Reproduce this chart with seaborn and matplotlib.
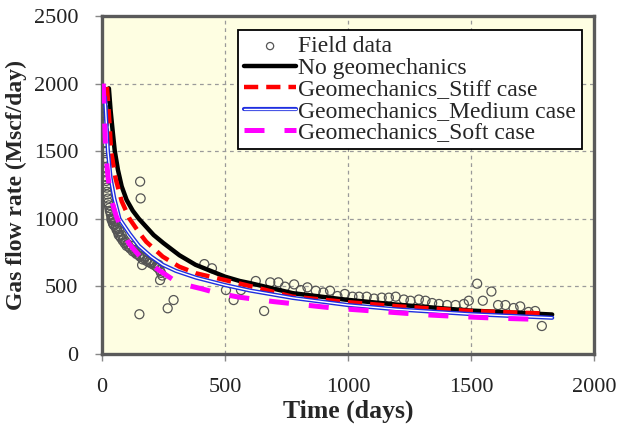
import matplotlib
matplotlib.use("Agg")
import matplotlib.pyplot as plt
import matplotlib.patheffects as pe
import seaborn as sns
import pandas as pd

# ---------------- data ----------------
field_t = [2, 3, 4, 5, 6, 7, 8, 9, 10, 11, 12, 13, 14, 15, 16, 17, 18, 19, 20,
           22, 24, 26, 28, 30, 32, 34, 36, 38, 40, 42, 44, 46, 48, 50, 53, 56,
           59, 62, 65, 68, 71, 74, 77, 80, 84, 88, 92, 96, 100, 105, 110, 115,
           120, 125, 130, 135, 140, 145, 150, 155, 160, 165, 170, 175, 180, 185,
           190, 195, 200, 205, 210, 215, 220, 225, 230, 235, 240, 245,
           152, 155, 157, 163, 236, 267, 291, 416, 447, 504, 535, 565, 625, 659,
           684, 717, 744, 781, 808, 835, 869, 900, 927, 957, 987, 1018, 1045,
           1076, 1106, 1137, 1166, 1194, 1227, 1254, 1288, 1315, 1342, 1370,
           1403, 1437, 1471, 1491, 1525, 1548, 1583, 1610, 1640, 1673, 1700,
           1734, 1761, 1788]
field_q = [1950, 1900, 1870, 1820, 1780, 1700, 1650, 1600, 1560, 1500, 1450,
           1420, 1380, 1350, 1310, 1280, 1250, 1230, 1200, 1180, 1150, 1120,
           1100, 1080, 1060, 1050, 1030, 1000, 990, 1010, 970, 960, 1000, 950,
           980, 940, 920, 930, 900, 880, 910, 870, 860, 880, 840, 850, 820, 830,
           800, 810, 790, 780, 800, 760, 770, 750, 740, 760, 730, 720, 740, 700,
           710, 720, 690, 700, 680, 690, 670, 680, 660, 670, 650, 640, 660, 620,
           600, 580,
           294, 1275, 1151, 658, 547, 338, 399, 665, 634, 473, 399, 473, 540,
           318, 530, 530, 498, 515, 473, 493, 468, 455, 468, 429, 444, 424, 424,
           424, 410, 417, 417, 424, 403, 394, 403, 394, 377, 370, 362, 362, 370,
           394, 520, 394, 462, 362, 362, 340, 352, 311, 318, 207]

nogeo_t = [28, 35, 45, 52, 65, 80, 100, 125, 150, 180, 210, 250, 315, 380, 500,
           560, 600, 775, 990, 1200, 1490, 1830]
nogeo_q = [1965, 1800, 1620, 1500, 1360, 1240, 1140, 1060, 1000, 940, 880, 820,
           730, 660, 572, 540, 525, 450, 402, 365, 322, 292]

stiff_t = [20, 28, 37, 55, 80, 112, 150, 180, 247, 314, 382, 500, 585, 775,
           990, 1207, 1500, 1795]
stiff_q = [1975, 1780, 1500, 1300, 1130, 1000, 900, 830, 720, 646, 597, 547,
           510, 424, 385, 352, 318, 300]

medium_t = [12, 18, 24, 35, 50, 71, 112, 150, 200, 247, 300, 382, 500, 600, 775,
            1000, 1200, 1500, 1830]
medium_q = [1900, 1700, 1500, 1300, 1150, 1000, 890, 800, 720, 660, 615, 565,
            510, 470, 415, 362, 330, 295, 268]

soft_t = [5, 10, 15, 25, 40, 58, 80, 112, 160, 220, 287, 343, 408, 468, 558,
          700, 950, 1180, 1335, 1465, 1590, 1755]
soft_q = [2000, 1750, 1500, 1300, 1130, 1020, 920, 810, 710, 634, 552, 510,
          481, 451, 420, 387, 338, 308, 288, 276, 266, 257]

x_ticks = [0, 500, 1000, 1500, 2000]
y_ticks = [0, 500, 1000, 1500, 2000, 2500]

labels = ["Field data", "No geomechanics", "Geomechanics_Stiff case",
          "Geomechanics_Medium case", "Geomechanics_Soft case"]

# ---------------- plot ----------------
sns.set_theme(style="white")
plt.rcParams["font.family"] = ["Liberation Serif", "DejaVu Serif"]

fig = plt.figure(figsize=(6.17, 4.26), dpi=100)
ax = fig.add_axes([102 / 617, 1 - 354 / 426, 492 / 617, 338 / 426])
ax.set_facecolor("#FEFEE2")

df_field = pd.DataFrame({"t": field_t, "q": field_q})
sns.scatterplot(data=df_field, x="t", y="q", ax=ax, marker="o",
                facecolor="none", edgecolor="#555555", linewidth=0.9, s=42,
                label=labels[0], zorder=3, clip_on=True)

df_ng = pd.DataFrame({"t": nogeo_t, "q": nogeo_q})
sns.lineplot(data=df_ng, x="t", y="q", ax=ax, color="black", linewidth=3.2,
             sort=False, estimator=None, label=labels[1], zorder=4)

df_st = pd.DataFrame({"t": stiff_t, "q": stiff_q})
sns.lineplot(data=df_st, x="t", y="q", ax=ax, color="#FF0000", linewidth=3.2,
             linestyle=(0, (3.2, 1.8)), sort=False, estimator=None,
             label=labels[2], zorder=5)

df_md = pd.DataFrame({"t": medium_t, "q": medium_q})
sns.lineplot(data=df_md, x="t", y="q", ax=ax, color="white", linewidth=1.0,
             sort=False, estimator=None, label=labels[3], zorder=5,
             path_effects=[pe.Stroke(linewidth=3.0, foreground="#1F2FE0"),
                           pe.Normal()])

df_sf = pd.DataFrame({"t": soft_t, "q": soft_q})
sns.lineplot(data=df_sf, x="t", y="q", ax=ax, color="#FF00FF", linewidth=3.6,
             linestyle=(0, (4, 4)), sort=False, estimator=None,
             label=labels[4], zorder=6)

ax.set_xlim(0, 2000)
ax.set_ylim(0, 2500)
ax.set_xticks(x_ticks)
ax.set_yticks(y_ticks)
ax.set_xticklabels([str(v) for v in x_ticks])
ax.set_yticklabels([str(v) for v in y_ticks])
ax.grid(True, linestyle=(0, (3, 3)), color="#9A9A9A", linewidth=0.9)
ax.set_axisbelow(True)
for sp in ax.spines.values():
    sp.set_color("#5A5A5A")
    sp.set_linewidth(2.4)
    sp.set_visible(True)
ax.tick_params(axis="both", direction="out", length=5, width=1,
               color="#888888", labelsize=16, labelcolor="#222222",
               bottom=True, left=True)
ax.tick_params(axis="y", pad=12)
ax.tick_params(axis="x", pad=12)

ax.set_xlabel("Time (days)", fontsize=18.5, fontweight="bold", labelpad=2)
ax.set_ylabel("Gas flow rate (Mscf/day)", fontsize=17, fontweight="bold",
              labelpad=5)

leg = ax.legend(loc="upper right", bbox_to_anchor=(0.976, 0.959),
                borderaxespad=0, fontsize=17, frameon=True, fancybox=False,
                handlelength=2.2, handletextpad=0.1, labelspacing=0.0,
                borderpad=0.25, markerscale=0.8)
leg.get_frame().set_edgecolor("black")
leg.get_frame().set_linewidth(1.3)
leg.get_frame().set_facecolor("white")
leg.get_frame().set_alpha(1)

fig.savefig("out.png", dpi=100)
